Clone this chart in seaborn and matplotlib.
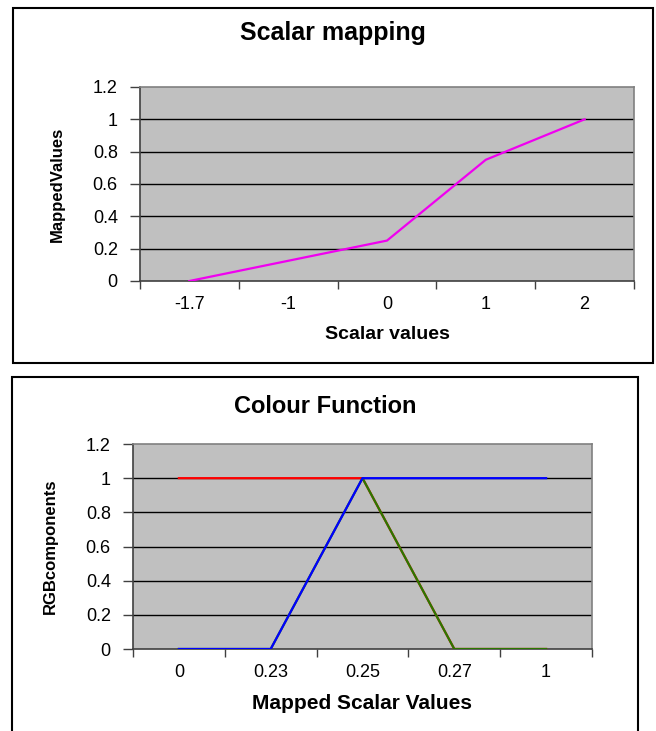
import numpy as np
import pandas as pd
import matplotlib
matplotlib.use("Agg")
import matplotlib.pyplot as plt
from matplotlib.patches import Rectangle
import seaborn as sns

# data
scalar_cats = ["-1.7", "-1", "0", "1", "2"]
mapped_values = [0.0, 0.125, 0.25, 0.75, 1.0]

colour_cats = ["0", "0.23", "0.25", "0.27", "1"]
red_values = [1, 1, 1, 0, 0]
green_values = [0, 0, 1, 0, 0]
blue_values = [0, 0, 1, 1, 1]

y_ticks = [0, 0.2, 0.4, 0.6, 0.8, 1, 1.2]
y_ticklabels = ["0", "0.2", "0.4", "0.6", "0.8", "1", "1.2"]

plt.rcParams['font.family'] = ['Liberation Sans', 'DejaVu Sans']

W, H = 656, 731
fig = plt.figure(figsize=(W / 100, H / 100), dpi=100, facecolor='white')


def fbox(left, top, right, bottom):
    # pixel box -> figure fraction [l, b, w, h]
    return [left / W, 1 - bottom / H, (right - left) / W, (bottom - top) / H]


def style_excel(ax, cats, xlabel, ylabel, xlabel_size, ylabel_pad):
    n = len(cats)
    ax.set_facecolor('#c0c0c0')
    ax.set_xlim(-0.5, n - 0.5)
    ax.set_ylim(0, 1.2)
    # category boundaries get tick marks, labels sit in the middle
    ax.set_xticks(np.arange(n + 1) - 0.5)
    ax.set_xticklabels([])
    ax.set_xticks(np.arange(n), minor=True)
    ax.set_xticklabels(cats, minor=True, fontsize=13)
    ax.tick_params(axis='x', which='major', length=6, width=1, color='#404040', direction='out')
    ax.tick_params(axis='x', which='minor', length=0, pad=11)
    ax.set_yticks(y_ticks)
    ax.set_yticklabels(y_ticklabels, fontsize=13)
    ax.tick_params(axis='y', length=7, width=1, color='#404040', direction='out', pad=9)
    ax.grid(False)
    for y in y_ticks[1:-1]:
        ax.axhline(y, color='black', linewidth=1, zorder=1)
    ax.spines['left'].set_color('#404040')
    ax.spines['bottom'].set_color('#404040')
    ax.spines['top'].set_color('#808080')
    ax.spines['right'].set_color('#808080')
    for sp in ax.spines.values():
        sp.set_linewidth(1.2)
    ax.set_xlabel(xlabel, fontsize=xlabel_size, fontweight='bold', labelpad=9)
    ax.set_ylabel(ylabel, fontsize=12, fontweight='bold', labelpad=ylabel_pad)
    if ax.get_legend() is not None:
        ax.get_legend().remove()


# outer chart frames
fig.patches.append(Rectangle((13 / W, 1 - 363 / H), 640 / W, 355 / H, transform=fig.transFigure,
                             fill=False, edgecolor='black', linewidth=1.5))
fig.patches.append(Rectangle((12 / W, -0.02), 626 / W, 1 - 377 / H + 0.02, transform=fig.transFigure,
                             fill=False, edgecolor='black', linewidth=1.5))

# top chart: scalar mapping
ax1 = fig.add_axes(fbox(140, 87, 634, 281))
df1 = pd.DataFrame({'pos': np.arange(len(scalar_cats)), 'value': mapped_values})
sns.lineplot(data=df1, x='pos', y='value', ax=ax1, color='#f000f0', linewidth=1.6, zorder=3)
style_excel(ax1, scalar_cats, 'Scalar values', 'MappedValues', 14, 20)
fig.text(333 / W, 1 - 33 / H, 'Scalar mapping', ha='center', va='center', fontsize=18, fontweight='bold')

# bottom chart: colour function
ax2 = fig.add_axes(fbox(133, 444, 592, 649))
df2 = pd.DataFrame({
    'pos': np.tile(np.arange(len(colour_cats)), 3),
    'value': red_values + green_values + blue_values,
    'channel': ['R'] * 5 + ['G'] * 5 + ['B'] * 5,
})
sns.lineplot(data=df2, x='pos', y='value', hue='channel', hue_order=['R', 'G', 'B'],
             palette={'R': '#ff0000', 'G': '#2a7800', 'B': '#0000ff'},
             ax=ax2, linewidth=1.6, zorder=3)
style_excel(ax2, colour_cats, 'Mapped Scalar Values', 'RGBcomponents', 15, 20)
fig.text(325 / W, 1 - 407 / H, 'Colour Function', ha='center', va='center', fontsize=17, fontweight='bold')

fig.savefig('out.png', dpi=100, facecolor='white')
